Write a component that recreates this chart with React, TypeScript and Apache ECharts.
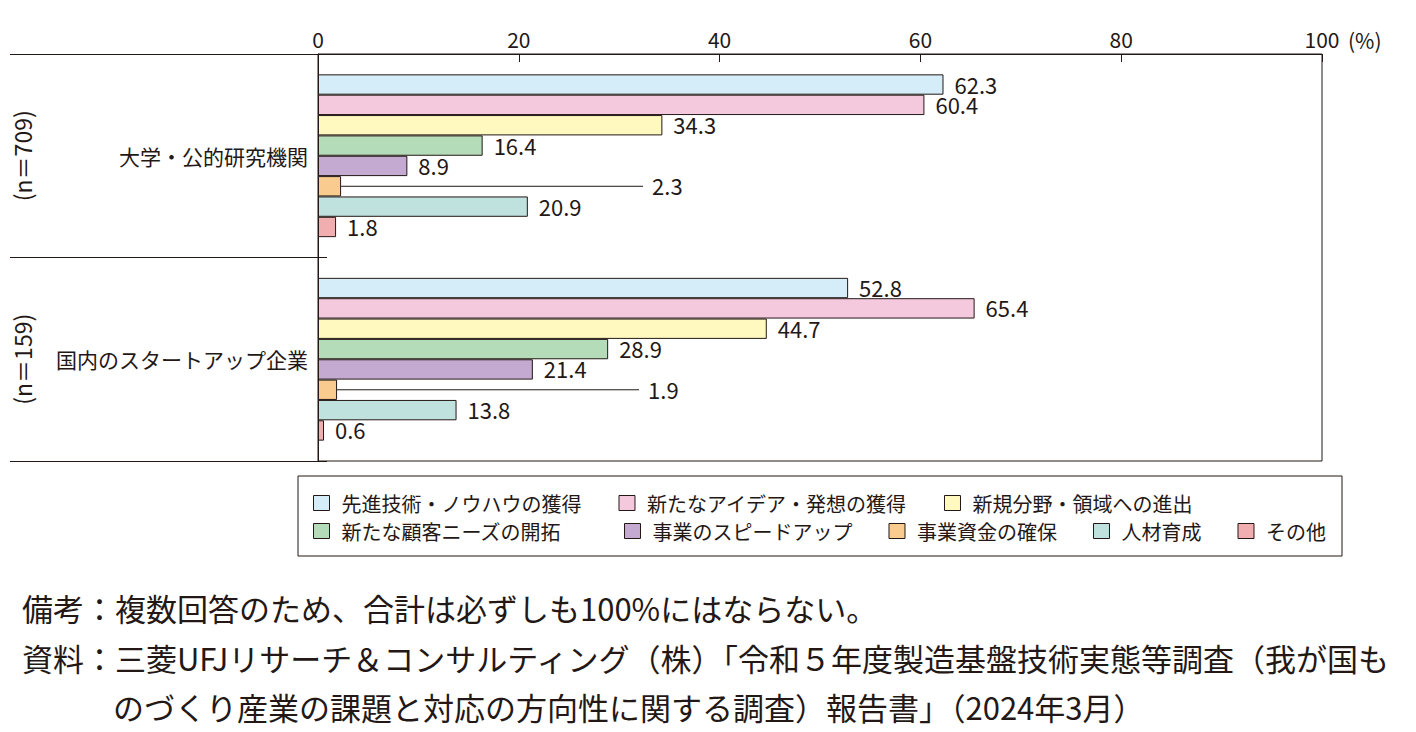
import React, { useEffect, useRef } from "react";
import * as echarts from "echarts";

const categories = ["大学・公的研究機関", "国内のスタートアップ企業"];
const sampleSizes = ["(n＝709)", "(n＝159)"];
const xTicks = [0, 20, 40, 60, 80, 100];

const seriesNames = [
  "先進技術・ノウハウの獲得",
  "新たなアイデア・発想の獲得",
  "新規分野・領域への進出",
  "新たな顧客ニーズの開拓",
  "事業のスピードアップ",
  "事業資金の確保",
  "人材育成",
  "その他",
];

const techKnowhow = [62.3, 52.8];
const newIdeas = [60.4, 65.4];
const newFields = [34.3, 44.7];
const newCustomers = [16.4, 28.9];
const speedUp = [8.9, 21.4];
const funding = [2.3, 1.9];
const hrDevelopment = [20.9, 13.8];
const others = [1.8, 0.6];

const seriesValues = [
  techKnowhow,
  newIdeas,
  newFields,
  newCustomers,
  speedUp,
  funding,
  hrDevelopment,
  others,
];

const colors = [
  "#d5edf8",
  "#f5c9dd",
  "#fff9bf",
  "#b5dcb8",
  "#c4a9d0",
  "#f9cb8f",
  "#bfe2df",
  "#f0aeb0",
];

const noteLine1 = "備考：複数回答のため、合計は必ずしも100%にはならない。";
const noteLine2 =
  "資料：三菱UFJリサーチ＆コンサルティング（株）「令和５年度製造基盤技術実態等調査（我が国も";
const noteLine3 = "のづくり産業の課題と対応の方向性に関する調査）報告書」（2024年3月）";

const FONT = "'Noto Sans CJK JP', 'Noto Sans', sans-serif";
const INK = "#231815";
const LEADER_INDEX = 5;

export default function App() {
  const ref = useRef<HTMLDivElement>(null);

  useEffect(() => {
    if (!ref.current) return;
    const chart = echarts.init(ref.current, undefined, { renderer: "svg" });
    const nSeries = seriesNames.length;

    const barSeries = seriesNames.map((name, i) => ({
      name,
      type: "bar",
      data: seriesValues[i],
      barGap: "0%",
      barCategoryGap: "20%",
      itemStyle: { color: colors[i], borderColor: INK, borderWidth: 1 },
      label: {
        show: true,
        position: "right",
        distance: i === LEADER_INDEX ? 311 : 11,
        offset: [0, -1],
        fontSize: 22,
        lineHeight: 18,
        fontFamily: FONT,
        color: INK,
        formatter: (p: any) => Number(p.value).toFixed(1),
      },
      silent: true,
    }));

    const leaderData = funding.map((v, i) => [v, i]);

    const leaderSeries = {
      type: "custom",
      silent: true,
      z: 5,
      clip: false,
      encode: { x: 0, y: 1 },
      data: leaderData,
      renderItem: (params: any, api: any) => {
        const val = api.value(0);
        const cat = api.value(1);
        const p = api.coord([val, cat]);
        const band = api.size([0, 1])[1];
        const barW = (band * 0.8) / nSeries;
        const y = p[1] - band * 0.4 + barW * (LEADER_INDEX + 0.5);
        return {
          type: "line",
          shape: { x1: p[0], y1: y, x2: p[0] + 302, y2: y },
          style: { stroke: INK, lineWidth: 1 },
        };
      },
    };

    const legendCommon = {
      icon: "rect",
      itemWidth: 16,
      itemHeight: 15,
      padding: 0,
      selectedMode: false,
      itemStyle: { borderColor: INK, borderWidth: 1 },
      textStyle: {
        fontSize: 20,
        lineHeight: 20,
        fontFamily: FONT,
        color: INK,
        padding: [0, 0, 0, 7],
      },
    };

    const noteStyle = {
      fontSize: 31,
      fontFamily: FONT,
      fill: INK,
      align: "left",
      verticalAlign: "middle",
    };

    chart.setOption({
      animation: false,
      backgroundColor: "#ffffff",
      textStyle: { fontFamily: FONT },
      grid: {
        left: 318,
        top: 54,
        width: 1004,
        height: 407,
        show: true,
        borderColor: INK,
        borderWidth: 1,
        backgroundColor: "transparent",
      },
      legend: [
        {
          ...legendCommon,
          data: seriesNames.slice(0, 3),
          left: 313,
          top: 493,
          itemGap: 37,
        },
        {
          ...legendCommon,
          data: seriesNames.slice(3, 4),
          left: 313,
          top: 521,
        },
        {
          ...legendCommon,
          data: seriesNames.slice(4),
          left: 624,
          top: 521,
          itemGap: 36,
        },
      ],
      xAxis: {
        type: "value",
        position: "top",
        min: xTicks[0],
        max: xTicks[xTicks.length - 1],
        interval: xTicks[1] - xTicks[0],
        name: "(%)",
        nameLocation: "end",
        nameGap: 26,
        nameTextStyle: {
          fontSize: 21,
          fontFamily: FONT,
          color: INK,
          verticalAlign: "bottom",
          padding: [0, 0, 4, 0],
        },
        axisLine: { show: true, lineStyle: { color: INK, width: 1 } },
        axisTick: { show: true, inside: true, length: 8, lineStyle: { color: INK } },
        axisLabel: {
          fontSize: 21,
          fontFamily: FONT,
          color: INK,
          margin: 5,
        },
        splitLine: { show: false },
      },
      yAxis: [
        {
          type: "category",
          data: categories,
          inverse: true,
          position: "left",
          axisLine: { show: true, lineStyle: { color: INK, width: 1 } },
          axisTick: {
            show: true,
            length: 308,
            interval: 0,
            lineStyle: { color: INK, width: 1 },
          },
          axisLabel: {
            fontSize: 21,
            fontFamily: FONT,
            color: INK,
            margin: 10,
          },
        },
        {
          type: "category",
          data: sampleSizes,
          inverse: true,
          position: "left",
          offset: 285,
          axisLine: { show: false },
          axisTick: { show: false },
          axisLabel: {
            rotate: 90,
            margin: 0,
            fontSize: 23,
            fontFamily: FONT,
            color: INK,
          },
        },
        {
          type: "category",
          data: categories,
          inverse: true,
          position: "left",
          offset: 0,
          axisLine: { show: false },
          axisTick: {
            show: true,
            inside: true,
            length: 9,
            interval: 0,
            lineStyle: { color: INK, width: 1 },
          },
          axisLabel: { show: false },
        },
      ],
      graphic: [
        {
          type: "rect",
          shape: { x: 298, y: 476, width: 1044, height: 80 },
          style: { fill: "none", stroke: INK, lineWidth: 1 },
          silent: true,
        },
        {
          type: "text",
          x: 22,
          y: 607,
          style: { ...noteStyle, text: noteLine1 },
        },
        {
          type: "text",
          x: 22,
          y: 657,
          style: { ...noteStyle, text: noteLine2 },
        },
        {
          type: "text",
          x: 113,
          y: 706,
          style: { ...noteStyle, text: noteLine3 },
        },
      ],
      series: [...barSeries, leaderSeries],
    });

    return () => {
      chart.dispose();
    };
  }, []);

  return (
    <div
      ref={ref}
      style={{
        position: "absolute",
        left: 0,
        top: 0,
        width: 1416,
        height: 732,
        background: "#fff",
      }}
    />
  );
}
